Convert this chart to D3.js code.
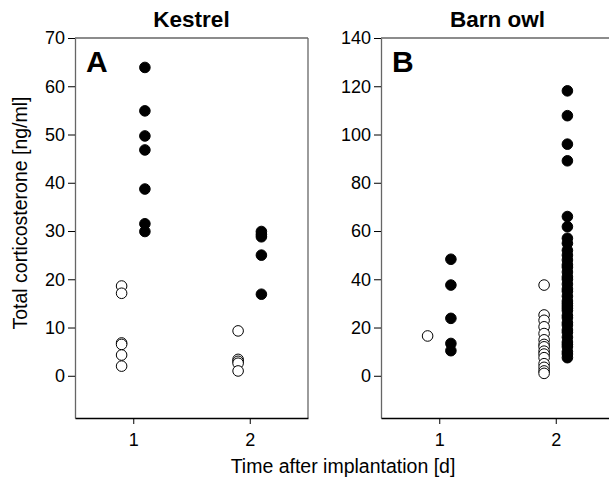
<!DOCTYPE html>
<html><head><meta charset="utf-8">
<script src="https://cdn.jsdelivr.net/npm/d3@7"></script>
<style>body{margin:0;background:#fff}svg{display:block;font-family:"Liberation Sans",Arial,sans-serif}</style>
</head><body>
<script>
// Panel titles and letters
const panelTitles = ["Kestrel", "Barn owl"];
const panelLetters = ["A", "B"];
const xTickLabels = ["1", "2"];
const yMaxA = 70, yMaxB = 140;
const yTicksA = [0,10,20,30,40,50,60,70];
const yTicksB = [0,20,40,60,80,100,120,140];

// Kestrel (A): open = control, filled = implanted
const kestrelOpenDay1 = [18.6, 17.1, 6.8, 6.5, 4.3, 2.0];
const kestrelFilledDay1 = [63.9, 54.9, 49.7, 46.8, 38.7, 31.5, 29.9];
const kestrelOpenDay2 = [9.3, 3.4, 3.0, 2.6, 1.0];
const kestrelFilledDay2 = [29.9, 29.3, 28.8, 25.0, 16.9];

// Barn owl (B)
const owlOpenDay1 = [16.5];
const owlFilledDay1 = [48.3, 37.6, 23.8, 13.4, 10.4];
const owlOpenDay2 = [37.6, 25.2, 23, 20.3, 17.5, 14.9, 13, 12, 10.2, 9, 7.5, 5, 3.5, 2, 1];
const owlFilledDay2 = [118.1, 107.8, 96.0, 89.1, 66.0, 61.8, 57.0, 54.9, 52, 50, 48, 46, 45, 43, 41, 40, 38, 36, 35, 33, 31, 30, 29, 28, 27, 25, 24, 22, 21, 19, 18, 16, 14, 13, 12, 10, 9, 7.5];

(function () {
const W = 609, H = 479;
const svg = d3.select("body").append("svg").attr("width", W).attr("height", H);

const plotTop = 38, plotBottom = 418, pw = 233;
const panels = [
  {left: 75, yMax: yMaxA, ticks: yTicksA, title: panelTitles[0], letter: panelLetters[0],
   groups: [[1, kestrelOpenDay1, false],[1, kestrelFilledDay1, true],[2, kestrelOpenDay2, false],[2, kestrelFilledDay2, true]]},
  {left: 381, yMax: yMaxB, ticks: yTicksB, title: panelTitles[1], letter: panelLetters[1],
   groups: [[1, owlOpenDay1, false],[1, owlFilledDay1, true],[2, owlOpenDay2, false],[2, owlFilledDay2, true]]}
];

panels.forEach(p => {
  const x = d3.scaleLinear().domain([0.5, 2.5]).range([p.left, p.left + pw]);
  const y = d3.scaleLinear().domain([-p.yMax * 0.125, p.yMax]).range([plotBottom, plotTop]);
  const g = svg.append("g");

  g.append("line").attr("x1", p.left).attr("x2", p.left + pw).attr("y1", plotTop).attr("y2", plotTop).attr("stroke", "#666").attr("stroke-width", 1.3);
  g.append("line").attr("x1", p.left + pw).attr("x2", p.left + pw).attr("y1", plotTop).attr("y2", plotBottom).attr("stroke", "#666").attr("stroke-width", 1.3);

  const ya = g.append("g").attr("transform", `translate(${p.left},0)`)
    .call(d3.axisLeft(y).tickValues(p.ticks).tickSize(7).tickSizeOuter(0).tickPadding(3).tickFormat(d3.format("d")));
  ya.attr("font-family", null).attr("font-size", null);
  ya.select(".domain").attr("stroke", "#666").attr("stroke-width", 1.3);
  ya.selectAll(".tick line").attr("stroke", "#000");
  ya.selectAll("text").style("font-size", "18px").attr("fill", "#000");

  const xa = g.append("g").attr("transform", `translate(0,${plotBottom})`)
    .call(d3.axisBottom(x).tickValues([1, 2]).tickSize(6).tickSizeOuter(0).tickPadding(9).tickFormat((d, i) => xTickLabels[i]));
  xa.attr("font-family", null).attr("font-size", null);
  xa.select(".domain").attr("stroke", "#000").attr("stroke-width", 1.3);
  xa.selectAll("text").style("font-size", "18px").attr("fill", "#000");

  g.append("text").attr("x", p.left + pw / 2).attr("y", 27).attr("text-anchor", "middle")
    .style("font-size", "22.5px").attr("font-weight", "bold").text(p.title);
  g.append("text").attr("x", p.left + 11).attr("y", 72)
    .style("font-size", "30px").attr("font-weight", "bold").text(p.letter);

  p.groups.forEach(([day, vals, filled]) => {
    const off = filled ? 0.1 : -0.1;
    g.selectAll(null).data(vals).enter().append("circle")
      .attr("cx", x(day + off)).attr("cy", d => y(d)).attr("r", 5.3)
      .attr("fill", filled ? "#000" : "#fff").attr("stroke", "#000").attr("stroke-width", 1);
  });
});

svg.append("text").attr("transform", "translate(27,213) rotate(-90)").attr("text-anchor", "middle")
  .style("font-size", "19.5px").text("Total corticosterone [ng/ml]");
svg.append("text").attr("x", 343).attr("y", 473).attr("text-anchor", "middle")
  .style("font-size", "19.5px").text("Time after implantation [d]");
})();
</script>
</body></html>
